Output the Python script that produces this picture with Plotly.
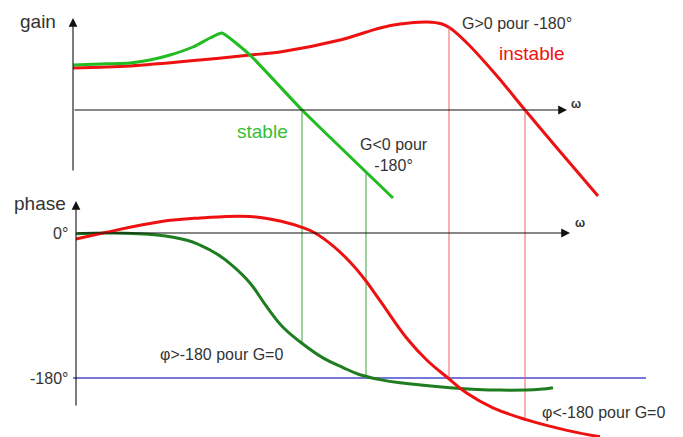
import numpy as np
import plotly.graph_objects as go

# ---------------- data (omega in arbitrary horizontal units) ----------------
# Gain curves (gain units, 0 = omega axis)
gain_green_w = [73, 100, 130, 150, 170, 193, 210, 222, 250, 302, 393]
gain_green_g = [45, 46, 47, 50, 55, 63, 72, 77, 55, 0, -88]

gain_red_w = [73, 130, 200, 250, 280, 340, 380, 400, 427, 442, 450, 467, 497, 525, 557, 598]
gain_red_g = [42, 44, 50, 55, 58, 70, 82, 86, 88, 86, 82, 67, 34, 0, -38, -86]

# Phase curves (degrees)
phase_green_w = [76, 110, 157, 187, 200, 217, 233, 250, 267, 283, 300, 323, 343, 360, 380, 400, 450, 500, 540, 553]
phase_green_p = [-1, 0, -2.5, -9, -15, -26, -41, -62, -92, -117, -135, -155, -167, -176, -182, -186, -192, -195, -194, -192]

phase_red_w = [76, 103, 160, 200, 250, 283, 302, 315, 333, 350, 365, 380, 407, 427, 448, 467, 493, 527, 567, 600]
phase_red_p = [-7.5, 0, 14, 18.6, 20.5, 14, 7, 0, -16, -36, -58, -84, -131, -158, -180, -199, -217, -232, -245, -253]

# Reference phase levels
phase_ticks = [0, -180]
phase_tick_labels = ["0°", "-180°"]

# Vertical construction lines (omega positions)
green_cross_w = 302    # stable: G = 0
green_180_w = 366      # stable: phase = -180
red_180_w = 449        # unstable: phase = -180
red_cross_w = 525      # unstable: G = 0

# ---------------- layout helpers ----------------
W, H = 683, 437
Y_GAIN0 = 110          # pixel row of gain 0
Y_PH0, Y_PH180 = 233, 378
DEG_PER_PX = 180.0 / (Y_PH180 - Y_PH0)

gain_range = [Y_GAIN0 - H, Y_GAIN0]
phase_range = [(Y_PH0 - H) * DEG_PER_PX, Y_PH0 * DEG_PER_PX]


def g2p(g):
    """convert a gain value to the equivalent phase-axis value (same paper row)"""
    ypx = Y_GAIN0 - g
    return (Y_PH0 - ypx) * DEG_PER_PX


GREEN = "#22bb22"
DGREEN = "#1e7d1e"
RED = "#ee1111"
TXT = "#333333"
FONT = "Liberation Sans, Arial, sans-serif"

fig = go.Figure()


def seg(x0, y0, x1, y1, color, width, yaxis="y2"):
    fig.add_trace(go.Scatter(x=[x0, x1], y=[y0, y1], mode="lines", yaxis=yaxis,
                             line=dict(color=color, width=width),
                             hoverinfo="skip", showlegend=False))


# blue -180 line
seg(73, -180, 646, -180, "#4a4acc", 1.3)

# vertical construction lines
seg(green_cross_w, g2p(0), green_cross_w,
    np.interp(green_cross_w, phase_green_w, phase_green_p), "#3aa53a", 1)
seg(green_180_w, g2p(np.interp(green_180_w, gain_green_w, gain_green_g)),
    green_180_w, -180, "#3aa53a", 1)
seg(red_180_w, g2p(np.interp(red_180_w, gain_red_w, gain_red_g)),
    red_180_w, -180, "#f06060", 1)
seg(red_cross_w, g2p(0), red_cross_w,
    np.interp(red_cross_w, phase_red_w, phase_red_p), "#f06060", 1)

# curves
fig.add_trace(go.Scatter(x=gain_red_w, y=gain_red_g, mode="lines", yaxis="y",
                         line=dict(color=RED, width=3, shape="spline", smoothing=0.9),
                         hoverinfo="skip", showlegend=False))
fig.add_trace(go.Scatter(x=gain_green_w, y=gain_green_g, mode="lines", yaxis="y",
                         line=dict(color=GREEN, width=3, shape="spline", smoothing=0.4),
                         hoverinfo="skip", showlegend=False))
fig.add_trace(go.Scatter(x=phase_green_w, y=phase_green_p, mode="lines", yaxis="y2",
                         line=dict(color=DGREEN, width=3, shape="spline", smoothing=1.2),
                         hoverinfo="skip", showlegend=False))
fig.add_trace(go.Scatter(x=phase_red_w, y=phase_red_p, mode="lines", yaxis="y2",
                         line=dict(color=RED, width=3, shape="spline", smoothing=1.2),
                         hoverinfo="skip", showlegend=False))

annotations = []


def arrow(x_tail, y_tail, x_tip, y_tip, yref):
    annotations.append(dict(x=x_tip, y=y_tip, ax=x_tail, ay=y_tail,
                            xref="x", yref=yref, axref="x", ayref=yref,
                            text="", showarrow=True, arrowhead=2, arrowsize=1.6,
                            arrowwidth=1.1, arrowcolor="#111111", standoff=0))


# gain axes
arrow(73, Y_GAIN0 - 172, 73, Y_GAIN0 - 18, "y")
arrow(73, 0, 567, 0, "y")
# phase axes
arrow(76, (Y_PH0 - 407) * DEG_PER_PX, 76, (Y_PH0 - 201) * DEG_PER_PX, "y2")
arrow(76, 0, 570, 0, "y2")


def text(x, y, s, yref, size, color=TXT, xanchor="center"):
    annotations.append(dict(x=x, y=y, xref="x", yref=yref, text=s, showarrow=False,
                            xanchor=xanchor, yanchor="middle",
                            font=dict(family=FONT, size=size, color=color)))


text(38, Y_GAIN0 - 21, "gain", "y", 19)
text(40, (Y_PH0 - 203) * DEG_PER_PX, "phase", "y2", 19)
text(262, Y_GAIN0 - 131, "stable", "y", 19, color="#33c033")
text(532, Y_GAIN0 - 53, "instable", "y", 19, color=RED)
text(517, Y_GAIN0 - 23, "G>0 pour -180°", "y", 16)
text(394, Y_GAIN0 - 154.5, "G<0 pour<br>-180°", "y", 16)
text(221, (Y_PH0 - 354) * DEG_PER_PX, "φ>-180 pour G=0", "y2", 16)
text(603, (Y_PH0 - 412) * DEG_PER_PX, "φ<-180 pour G=0", "y2", 16)
for v, lab in zip(phase_ticks, phase_tick_labels):
    text(70, v, lab, "y2", 16, xanchor="right")
text(576, Y_GAIN0 - 104, "<b>ω</b>", "y", 12)
text(580, (Y_PH0 - 223) * DEG_PER_PX, "<b>ω</b>", "y2", 12)

fig.update_layout(
    width=W, height=H,
    margin=dict(l=0, r=0, t=0, b=0),
    paper_bgcolor="white", plot_bgcolor="white",
    xaxis=dict(range=[0, W], visible=False, fixedrange=True),
    yaxis=dict(range=gain_range, visible=False, fixedrange=True),
    yaxis2=dict(range=phase_range, visible=False, overlaying="y", fixedrange=True),
    annotations=annotations,
    showlegend=False,
)

fig.write_html("out.html", config={"displayModeBar": False},
               post_script="document.body.style.margin='0px';document.body.style.overflow='hidden';")
